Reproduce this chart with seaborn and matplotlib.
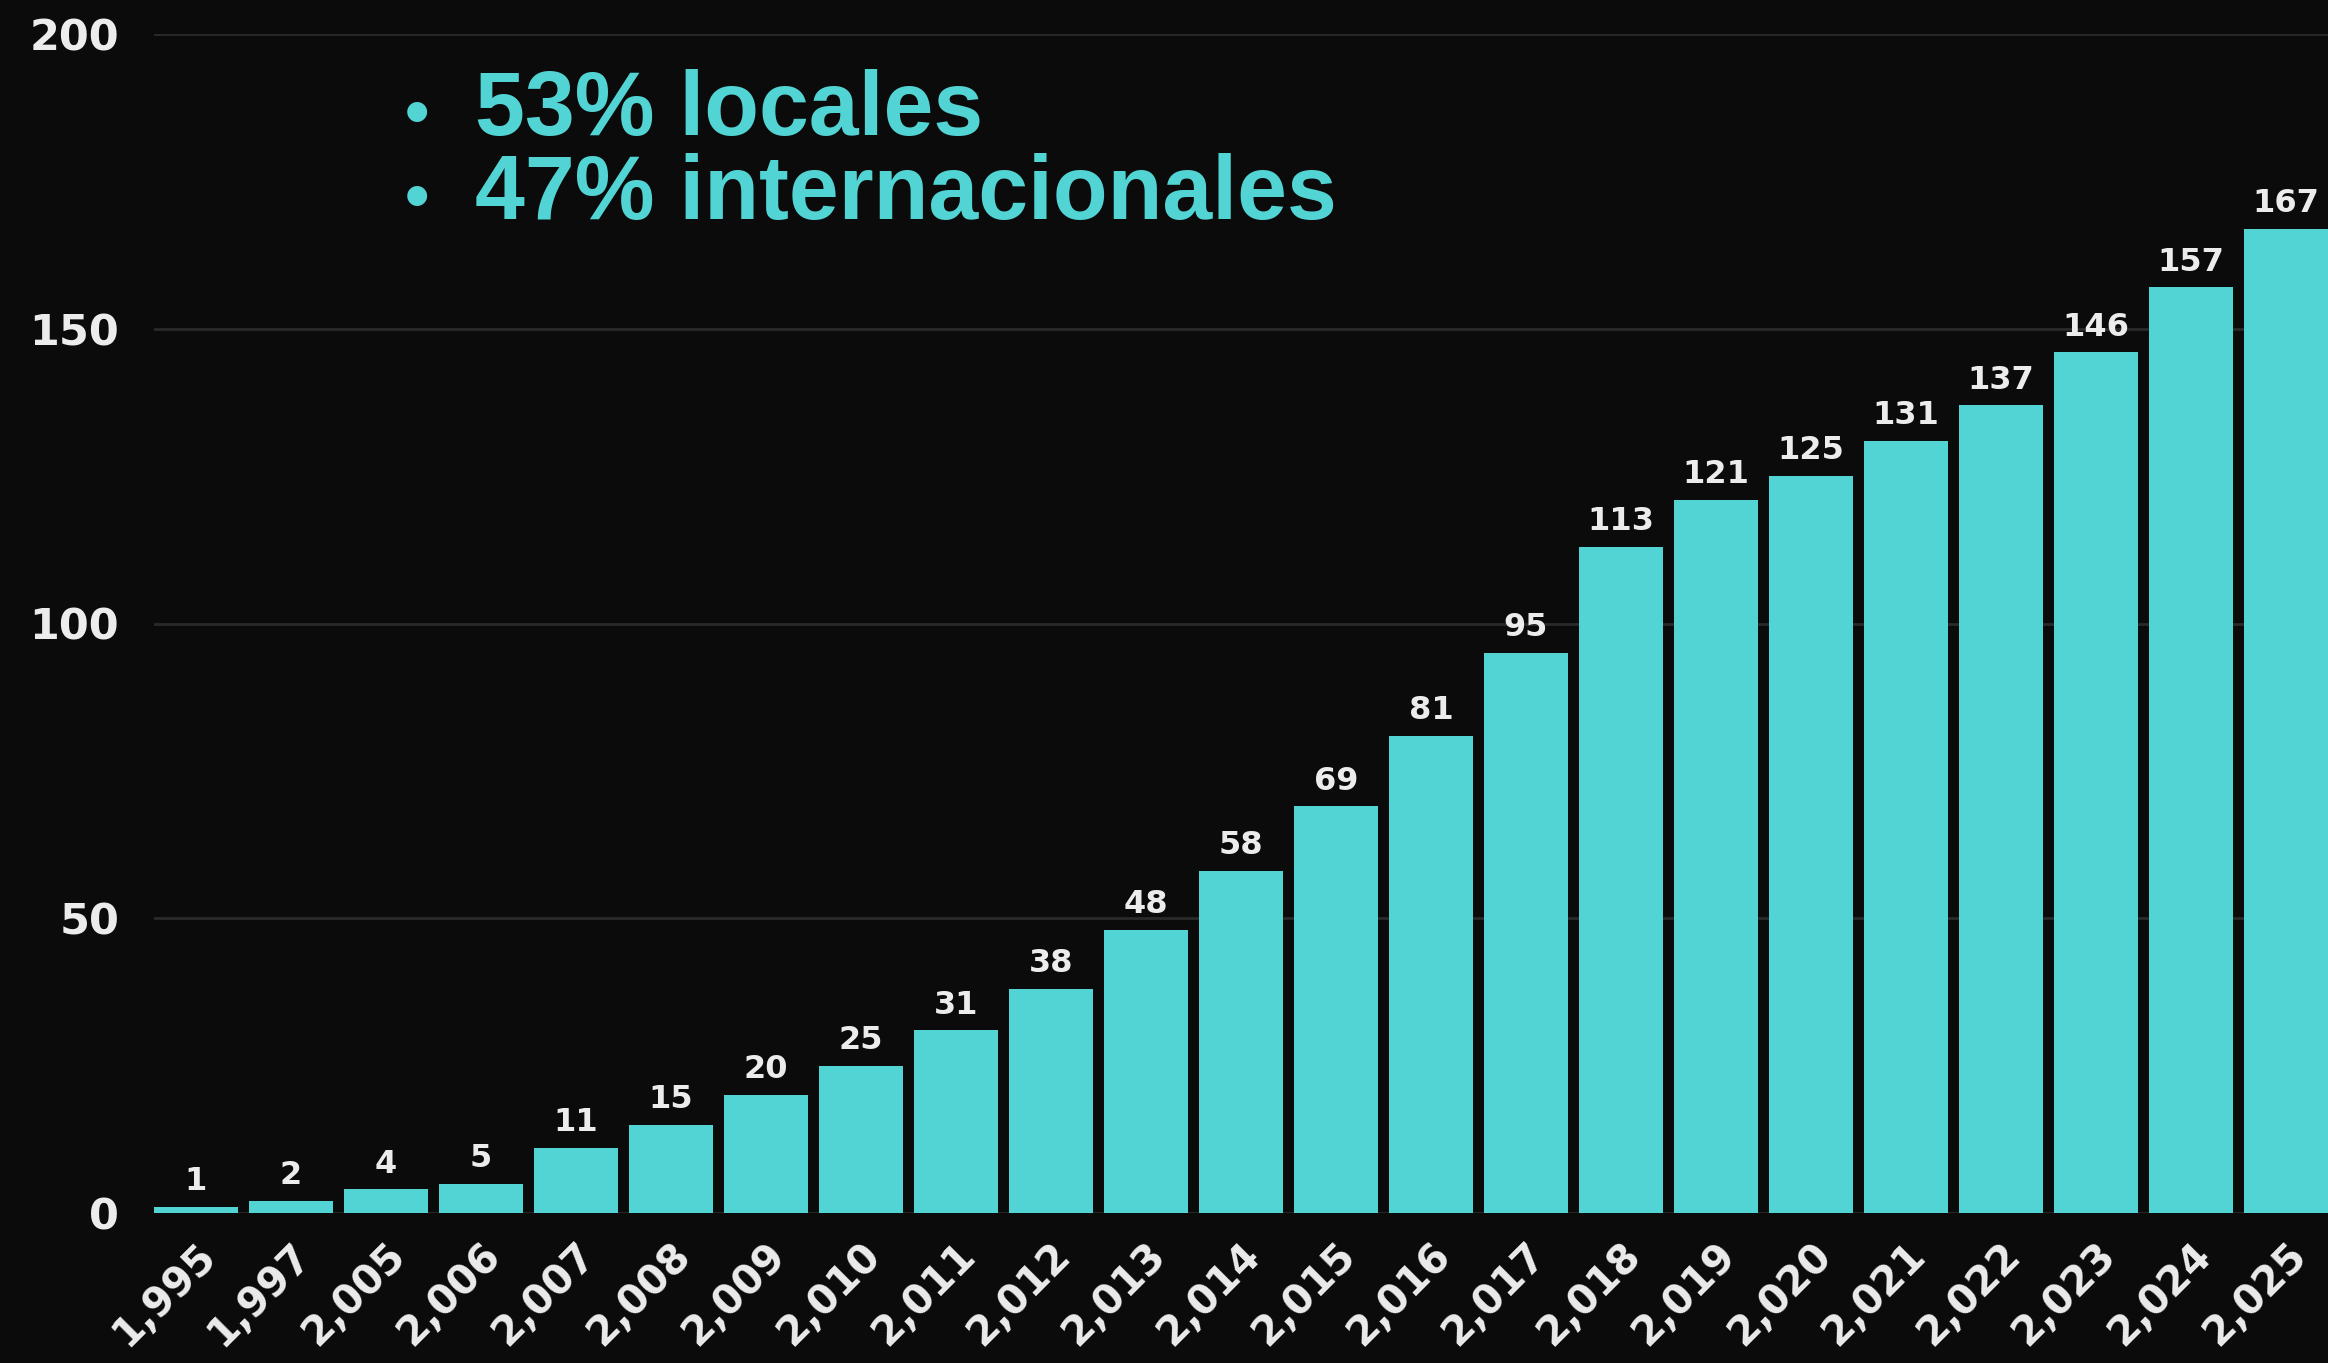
import numpy as np
import pandas as pd
import seaborn as sns
import matplotlib.pyplot as plt

# Data
years = [1995, 1997, 2005, 2006, 2007, 2008, 2009, 2010, 2011, 2012, 2013, 2014,
         2015, 2016, 2017, 2018, 2019, 2020, 2021, 2022, 2023, 2024, 2025]
counts = [1, 2, 4, 5, 11, 15, 20, 25, 31, 38, 48, 58,
          69, 81, 95, 113, 121, 125, 131, 137, 146, 157, 167]
year_labels = [f"{y:,}" for y in years]
yticks = [0, 50, 100, 150, 200]
notes = ["53% locales", "47% internacionales"]

BG = "#0b0b0b"
TEAL = "#52d4d4"
TXT = "#ececec"
W, H = 2328, 1363

sns.set_theme(style="dark")
plt.rcParams["font.family"] = ["DejaVu Sans"]

df = pd.DataFrame({"year": year_labels, "count": counts})

fig = plt.figure(figsize=(W / 100, H / 100), dpi=100, facecolor=BG)
ax = fig.add_axes([154 / W, 1 - 1213 / H, 1 - 154 / W, (1213 - 34) / H])
ax.set_facecolor(BG)

sns.barplot(data=df, x="year", y="count", color=TEAL, width=0.88,
            saturation=1, linewidth=0, ax=ax, zorder=3)

ax.bar_label(ax.containers[0], labels=[str(c) for c in counts], padding=7,
             color=TXT, fontsize=23, fontweight="bold")

ax.set_ylim(0, 200)
ax.set_xlim(-0.44, len(years) - 1 + 0.44)
ax.set_yticks(yticks)
ax.set_yticklabels([str(t) for t in yticks], fontsize=31, fontweight="bold", color=TXT)
ax.set_xticks(range(len(years)))
ax.set_xticklabels(year_labels, rotation=45, ha="right", rotation_mode="anchor",
                   fontsize=29, fontweight="bold", color=TXT)
ax.tick_params(axis="y", length=0, pad=25)
ax.tick_params(axis="x", length=0, pad=16)
ax.set_xlabel("")
ax.set_ylabel("")
ax.grid(axis="y", color="#2a2a2a", linewidth=2, zorder=0)
ax.grid(axis="x", visible=False)
for s in ax.spines.values():
    s.set_visible(False)

# Bullet annotations
note_font = ["Liberation Sans", "DejaVu Sans"]
for i, note in enumerate(notes):
    yb = 1 - (135 + i * 84) / H
    fig.text(405 / W, yb, "•", color=TEAL, fontsize=50, fontweight="bold",
             family=note_font, va="baseline")
    fig.text(475 / W, yb, note, color=TEAL, fontsize=64.5, fontweight="bold",
             family=note_font, va="baseline")

fig.savefig("out.png", dpi=100, facecolor=BG)
